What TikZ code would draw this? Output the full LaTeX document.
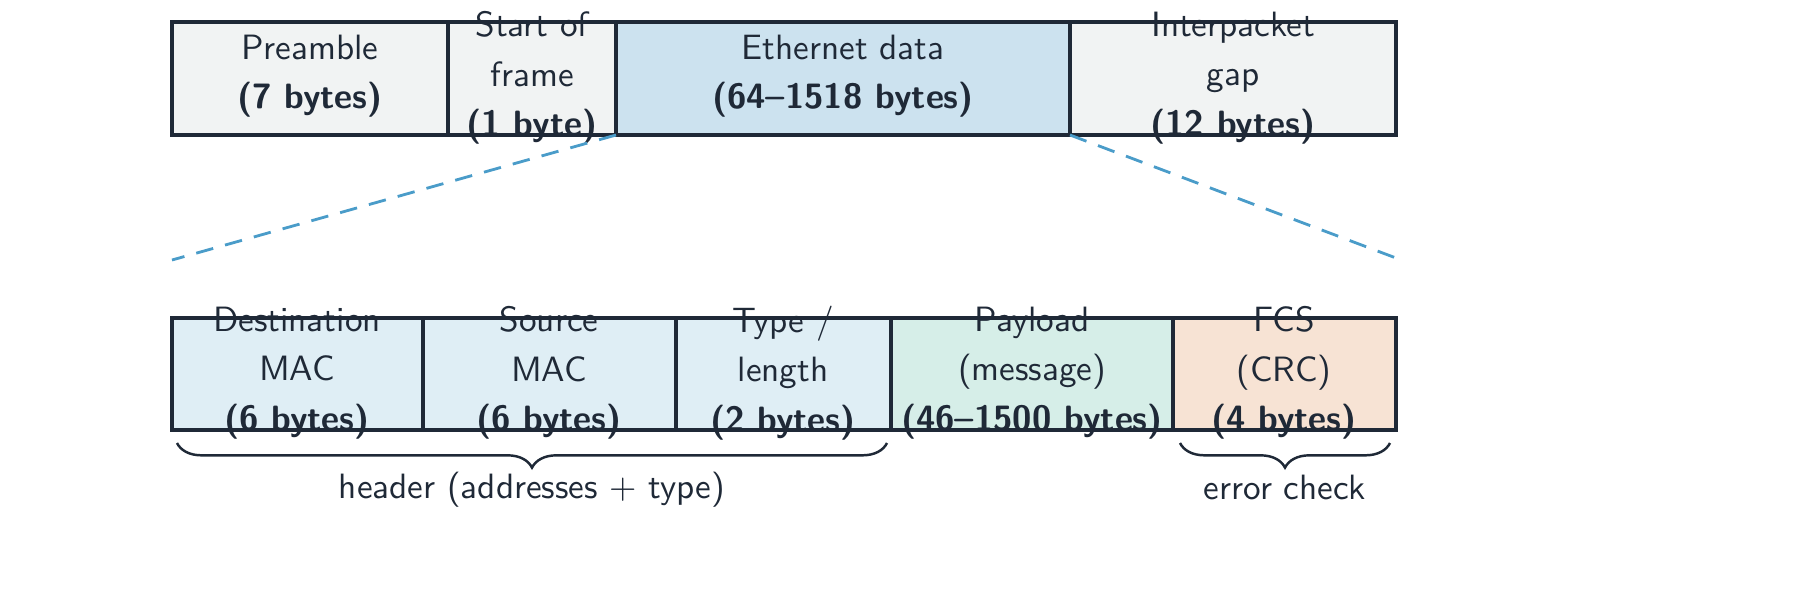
\documentclass[tikz,border=0pt]{standalone}
\usetikzlibrary{decorations.pathreplacing}
\renewcommand{\familydefault}{\sfdefault}
\begin{document}
\begin{tikzpicture}[x=0.01cm,y=-0.01cm,
  fld/.style={draw=txt,line width=0.9pt},
  lbl/.style={align=center,text=txt,font=\fontsize{10}{14}\selectfont,inner sep=0pt},
  brc/.style={decorate,decoration={brace,mirror,amplitude=7pt},draw=txt,line width=0.7pt},
  dsh/.style={cdash,dash pattern=on 5pt off 3.5pt,line width=0.8pt}]
\definecolor{txt}{HTML}{1F2937}
\definecolor{cgrey}{HTML}{F1F3F3}
\definecolor{ceth}{HTML}{CCE2EF}
\definecolor{clb}{HTML}{DFEEF5}
\definecolor{cgr}{HTML}{D6EEE8}
\definecolor{cor}{HTML}{F7E3D4}
\definecolor{cdash}{HTML}{4A9CC9}
\useasboundingbox (0,0) rectangle (1800,605);
% top row
\filldraw[fld,fill=cgrey] (172,22) rectangle (448,135);
\filldraw[fld,fill=cgrey] (448,22) rectangle (616,135);
\filldraw[fld,fill=ceth] (616,22) rectangle (1070,135);
\filldraw[fld,fill=cgrey] (1070,22) rectangle (1396,135);
\node[lbl] (pre) at (310,76) {Preamble\\\textbf{(7 bytes)}};
\node[lbl] (sof) at (532,78) {Start of\\frame\\\textbf{(1 byte)}};
\node[lbl] (eth) at (843,76) {Ethernet data\\\textbf{(64--1518 bytes)}};
\node[lbl] (ipg) at (1233,78) {Interpacket\\gap\\\textbf{(12 bytes)}};
\coordinate (ethL) at (616,135);
\coordinate (ethR) at (1070,135);
\coordinate (dL) at (172,260);
\coordinate (dR) at (1396,258);
\draw[dsh] (ethL) -- (dL);
\draw[dsh] (ethR) -- (dR);
% bottom row
\filldraw[fld,fill=clb] (172,318) rectangle (423,430);
\filldraw[fld,fill=clb] (423,318) rectangle (676,430);
\filldraw[fld,fill=clb] (676,318) rectangle (891,430);
\filldraw[fld,fill=cgr] (891,318) rectangle (1173,430);
\filldraw[fld,fill=cor] (1173,318) rectangle (1396,430);
\node[lbl] (dst) at (297,373) {Destination\\MAC\\\textbf{(6 bytes)}};
\node[lbl] (src) at (549,373) {Source\\MAC\\\textbf{(6 bytes)}};
\node[lbl] (typ) at (783,373) {Type /\\length\\\textbf{(2 bytes)}};
\node[lbl] (pay) at (1032,373) {Payload\\(message)\\\textbf{(46--1500 bytes)}};
\node[lbl] (fcs) at (1284,373) {FCS\\(CRC)\\\textbf{(4 bytes)}};
% braces
\coordinate (b1a) at (177,443);
\coordinate (b1b) at (887,443);
\coordinate (b2a) at (1180,443);
\coordinate (b2b) at (1390,443);
\draw[brc] (b1a) -- (b1b);
\draw[brc] (b2a) -- (b2b);
\node[lbl] (hdr) at (532,490) {header (addresses + type)};
\node[lbl] (err) at (1285,487) {error check};
\end{tikzpicture}
\end{document}
